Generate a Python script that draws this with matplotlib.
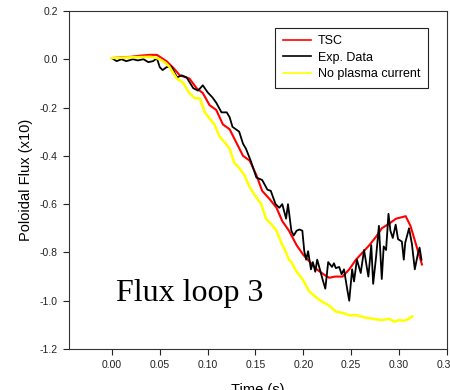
import numpy as np
import matplotlib
matplotlib.use("Agg")
import matplotlib.pyplot as plt

plt.rcParams['font.family'] = ['Liberation Sans', 'DejaVu Sans']
plt.rcParams['axes.unicode_minus'] = False

# TSC simulation
tsc_t = [0, 0.01, 0.02, 0.03, 0.04, 0.047, 0.052, 0.057, 0.064, 0.071, 0.081,
         0.0885, 0.095, 0.102, 0.109, 0.116, 0.123, 0.130, 0.137, 0.144,
         0.151, 0.157, 0.165, 0.172, 0.178, 0.185, 0.193, 0.2, 0.207, 0.214,
         0.221, 0.227, 0.233, 0.241, 0.248, 0.255, 0.262, 0.269, 0.276,
         0.282, 0.29, 0.297, 0.302, 0.307, 0.312, 0.318, 0.324]
tsc_flux = [0.005, 0.008, 0.01, 0.015, 0.018, 0.018, 0.005, -0.008, -0.035,
            -0.067, -0.08, -0.12, -0.14, -0.19, -0.21, -0.27, -0.29, -0.345,
            -0.40, -0.42, -0.48, -0.545, -0.58, -0.615, -0.67, -0.71, -0.77,
            -0.81, -0.84, -0.87, -0.89, -0.905, -0.90, -0.90, -0.87, -0.83,
            -0.80, -0.77, -0.735, -0.70, -0.68, -0.66, -0.655, -0.65, -0.69,
            -0.77, -0.85]

# measured flux loop signal
exp_t = [0, 0.005, 0.01, 0.015, 0.022, 0.027, 0.033, 0.038, 0.043, 0.047,
         0.05, 0.053, 0.057, 0.062, 0.068, 0.073, 0.078, 0.085, 0.09, 0.095,
         0.1, 0.105, 0.109, 0.1145, 0.12, 0.123, 0.126, 0.133, 0.137, 0.14,
         0.145, 0.151, 0.157, 0.1625, 0.166, 0.171, 0.175, 0.178, 0.182,
         0.184, 0.1875, 0.19, 0.193, 0.196, 0.199, 0.201, 0.203, 0.205, 0.208,
         0.21, 0.2125, 0.2145, 0.218, 0.22, 0.223, 0.226, 0.23, 0.232, 0.234,
         0.2375, 0.24, 0.2425, 0.246, 0.248, 0.251, 0.253, 0.256, 0.26,
         0.2635, 0.2665, 0.268, 0.271, 0.273, 0.276, 0.279, 0.282, 0.284,
         0.2865, 0.289, 0.291, 0.2935, 0.2965, 0.299, 0.303, 0.305, 0.3065,
         0.3105, 0.3135, 0.3165, 0.3195, 0.3215, 0.3235]
exp_flux = [0.004, -0.008, 0.0, -0.008, 0.0, -0.005, 0.0, -0.012, -0.008,
            0.004, -0.033, -0.045, -0.033, -0.03, -0.075, -0.067, -0.075,
            -0.12, -0.13, -0.108, -0.137, -0.158, -0.18, -0.22, -0.22, -0.24,
            -0.28, -0.30, -0.35, -0.37, -0.42, -0.49, -0.50, -0.54, -0.545,
            -0.60, -0.615, -0.60, -0.66, -0.60, -0.71, -0.73, -0.71, -0.705,
            -0.71, -0.795, -0.83, -0.795, -0.87, -0.84, -0.88, -0.83, -0.88,
            -0.91, -0.95, -0.84, -0.86, -0.845, -0.865, -0.86, -0.89, -0.87,
            -0.955, -1.0, -0.87, -0.92, -0.83, -0.885, -0.79, -0.865, -0.90,
            -0.77, -0.93, -0.82, -0.69, -0.91, -0.775, -0.79, -0.64, -0.71,
            -0.74, -0.685, -0.745, -0.755, -0.83, -0.76, -0.70, -0.765, -0.87,
            -0.81, -0.78, -0.83]

# vacuum case, no plasma current
vac_t = [0, 0.02, 0.04, 0.047, 0.052, 0.056, 0.0604, 0.0677, 0.074, 0.081,
         0.086, 0.092, 0.097, 0.102, 0.107, 0.1125, 0.118, 0.123, 0.128,
         0.133, 0.1385, 0.144, 0.15, 0.156, 0.161, 0.167, 0.172, 0.177, 0.182,
         0.185, 0.1875, 0.193, 0.199, 0.206, 0.213, 0.22, 0.227, 0.234, 0.241,
         0.248, 0.256, 0.265, 0.273, 0.282, 0.29, 0.295, 0.30, 0.305, 0.31,
         0.314]
vac_flux = [0.005, 0.008, 0.01, 0.005, -0.005, -0.015, -0.033, -0.08, -0.096,
            -0.14, -0.16, -0.163, -0.22, -0.245, -0.27, -0.32, -0.345, -0.37,
            -0.43, -0.45, -0.48, -0.53, -0.567, -0.60, -0.66, -0.685, -0.71,
            -0.76, -0.80, -0.83, -0.84, -0.88, -0.91, -0.96, -0.985, -1.005,
            -1.02, -1.045, -1.05, -1.06, -1.06, -1.07, -1.075, -1.08, -1.075,
            -1.087, -1.08, -1.083, -1.075, -1.065]

xticks = [0.0, 0.05, 0.10, 0.15, 0.20, 0.25, 0.30, 0.35]
yticks = [-1.2, -1.0, -0.8, -0.6, -0.4, -0.2, 0.0, 0.2]

fig = plt.figure(figsize=(4.5, 3.9), dpi=100)
ax = fig.add_axes([0.153, 0.105, 0.84, 0.867])

ax.plot(tsc_t, tsc_flux, color='#ff0000', lw=1.5, label='TSC')
ax.plot(exp_t, exp_flux, color='black', lw=1.3, label='Exp. Data')
ax.plot(vac_t, vac_flux, color='#ffff00', lw=1.8, label='No plasma current')

ax.set_xlim(-0.045, 0.349)
ax.set_ylim(-1.2, 0.2)
ax.set_xticks(xticks)
ax.set_yticks(yticks)
ax.set_xticklabels(['%.2f' % v for v in xticks])
ax.set_yticklabels(['%.1f' % v for v in yticks])
ax.tick_params(direction='out', length=4, width=0.8, labelsize=7.5,
               colors='#222222', pad=4)
for s in ax.spines.values():
    s.set_linewidth(0.8)
    s.set_color('#333333')

ax.set_xlabel('Time (s)', fontsize=10.5, labelpad=9)
ax.set_ylabel('Poloidal Flux (x10)', fontsize=10.5, labelpad=5)

ax.text(0.004, -1.0, 'Flux loop 3', family='Liberation Serif', fontsize=23,
        va='baseline', ha='left')

leg = ax.legend(loc='upper right', bbox_to_anchor=(0.95, 0.95),
                borderaxespad=0, fontsize=9, fancybox=False,
                edgecolor='#222222', framealpha=1, handlelength=2.25,
                handletextpad=0.55, labelspacing=0.35, borderpad=0.6)
leg.get_frame().set_linewidth(0.8)
for h in leg.get_lines():
    h.set_linewidth(1.2)

fig.savefig('out.png', dpi=100)
